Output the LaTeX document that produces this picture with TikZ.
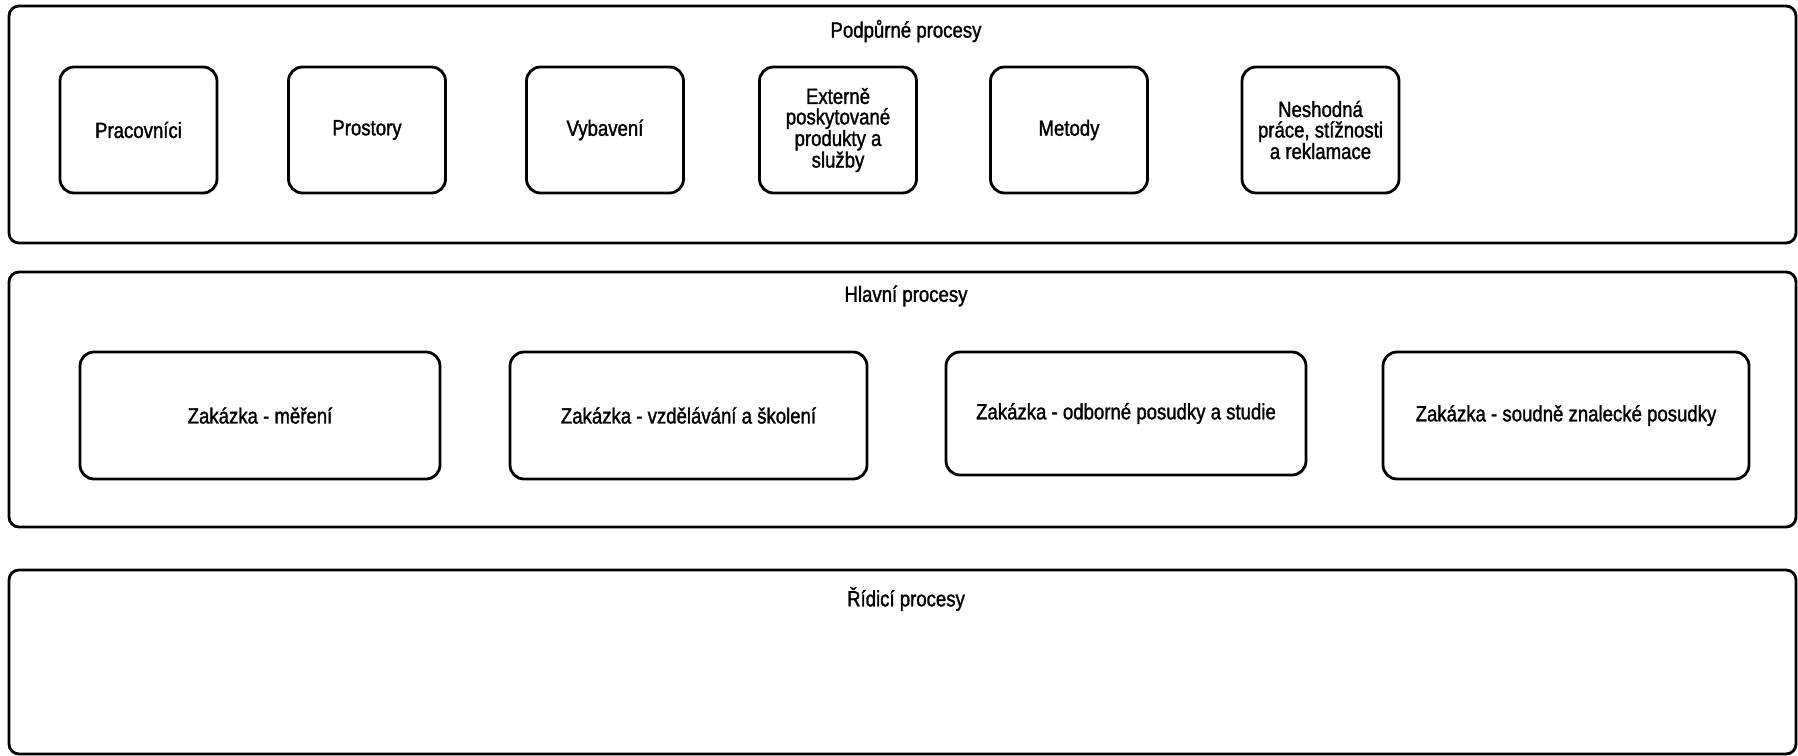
\documentclass[tikz,border=0pt]{standalone}
\usepackage{fontspec}
\setmainfont{Liberation Sans}[FakeStretch=0.845, FakeBold=1.4]
\begin{document}
\begin{tikzpicture}[x=1pt,y=-1pt,
  group/.style={draw=black, line width=2.8pt, rounded corners=10pt, inner sep=0pt},
  proc/.style={draw=black, line width=2.8pt, rounded corners=14pt, align=center,
    font=\fontsize{22}{20.5}\selectfont, inner sep=0pt},
  title/.style={font=\fontsize{22}{20.5}\selectfont, inner sep=0pt},
]
\useasboundingbox (0,0) rectangle (1798,755);

% process groups
\node[group, minimum width=1787pt, minimum height=237pt] (podpurne) at (902.5,124.5) {};
\node[group, minimum width=1787pt, minimum height=255pt] (hlavni) at (902.5,399.5) {};
\node[group, minimum width=1787pt, minimum height=184pt] (ridici) at (902.5,662) {};

\node[title] (t1) at (906,31) {Podpůrné procesy};
\node[title] (t2) at (906,296) {Hlavní procesy};
\node[title] (t3) at (906,599) {Řídicí procesy};

% supporting processes
\tikzset{small/.style={proc, minimum width=157pt, minimum height=126pt}}
\node[small] (pracovnici) at (138.5,130) {Pracovníci};
\node[small] (prostory) at (367,130) {Prostory};
\node[small] (vybaveni) at (605,130) {Vybavení};
\node[small] (externe) at (838,130) {Externě\\poskytované\\produkty a\\služby};
\node[small] (metody) at (1069,130) {Metody};
\node[small] (neshodna) at (1320.5,130) {Neshodná\\práce, stížnosti\\a reklamace};

% main processes
\node[proc, minimum width=360pt, minimum height=127pt] (mereni) at (260,415.5) {Zakázka - měření};
\node[proc, minimum width=357pt, minimum height=127pt] (vzdelavani) at (688.5,415.5) {Zakázka - vzdělávání a školení};
\node[proc, minimum width=360pt, minimum height=123pt] (odborne) at (1126,413.5) {Zakázka - odborné posudky a studie};
\node[proc, minimum width=366pt, minimum height=127pt] (soudne) at (1566,415.5) {Zakázka - soudně znalecké posudky};
\end{tikzpicture}
\end{document}
